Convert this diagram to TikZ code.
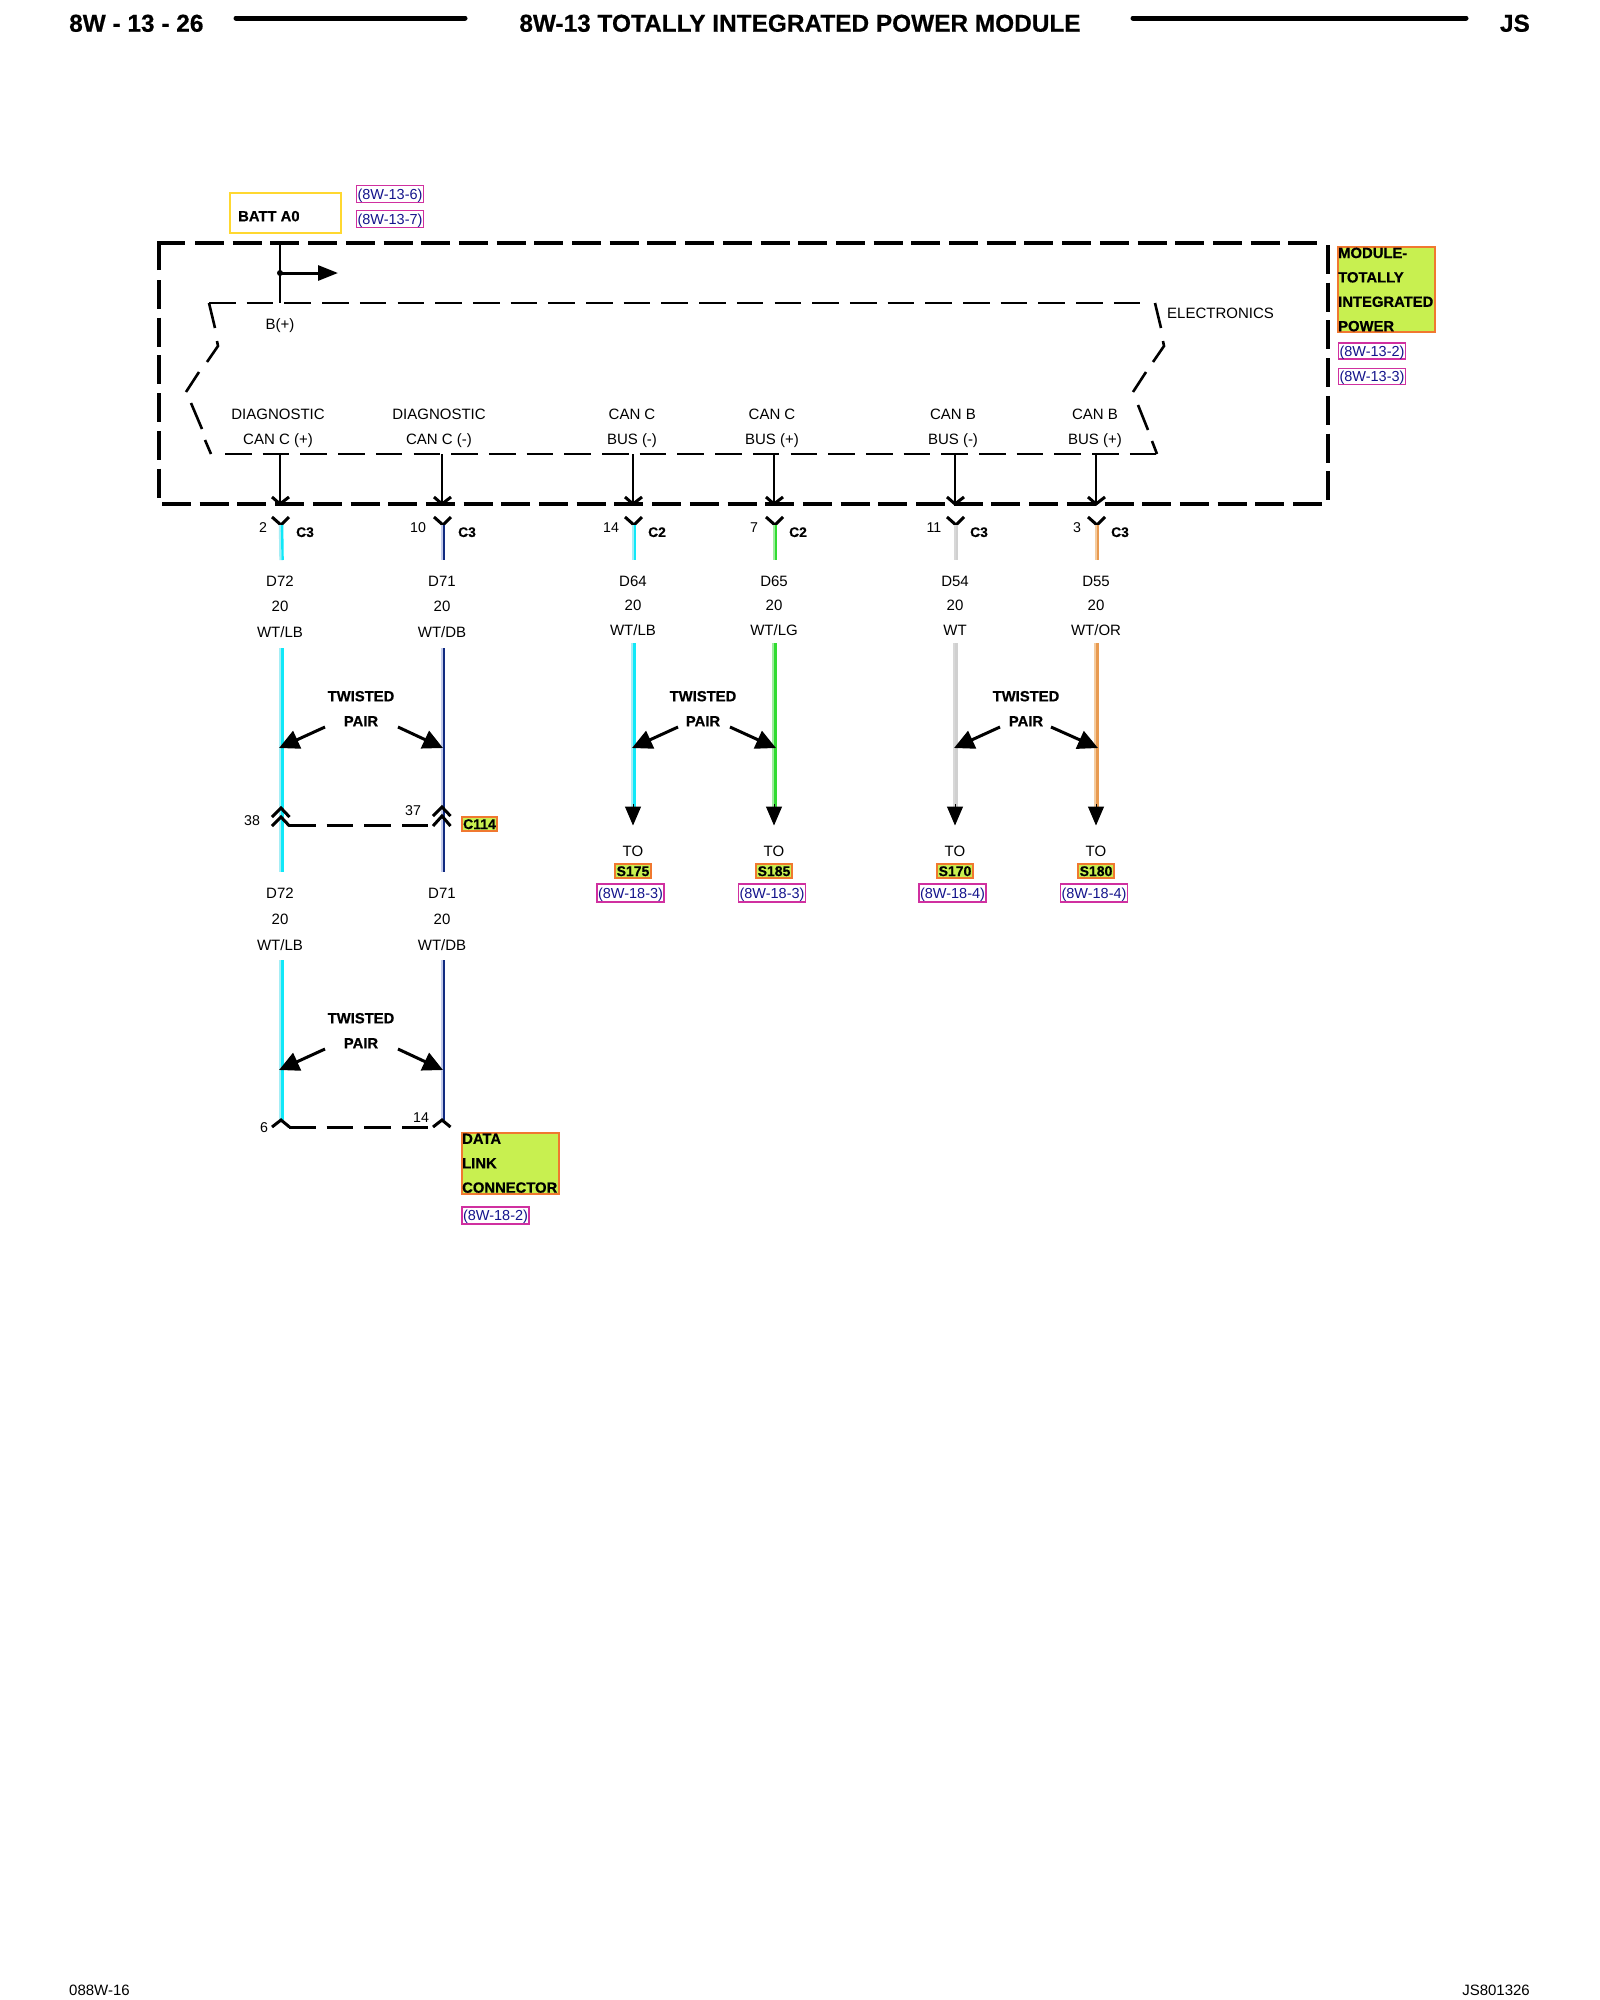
\documentclass[tikz,border=0pt]{standalone}
\usepackage{fontspec}
\setmainfont{Liberation Sans}[BoldFeatures={FakeBold=0.5}]
\usetikzlibrary{arrows.meta}
\definecolor{refc}{HTML}{D030A0}
\definecolor{refn}{HTML}{14148C}
\definecolor{boxf}{HTML}{C8F050}
\definecolor{boxo}{HTML}{F07830}
\definecolor{gold}{HTML}{FFD830}
\definecolor{cy}{HTML}{10E8F8}\definecolor{cyl}{HTML}{A4EEF6}
\definecolor{nv}{HTML}{102A80}\definecolor{nvl}{HTML}{C4CCEC}
\definecolor{gr}{HTML}{30DC30}\definecolor{grl}{HTML}{A0ECA0}
\definecolor{wh}{HTML}{D0D0D0}\definecolor{whl}{HTML}{D8D8D8}
\definecolor{or}{HTML}{E89A50}\definecolor{orl}{HTML}{F4CCA0}
\newcommand{\fs}[1]{\fontsize{#1}{#1}\selectfont}
\tikzset{
  lbl/.style={inner sep=0pt,font=\fs{15},text height=10.8pt,text depth=0pt},
  blbl/.style={inner sep=0pt,font=\fs{14.8}\bfseries,text height=10.6pt,text depth=0pt},
  pinlbl/.style={inner sep=0pt,font=\fs{14.2},text height=10.2pt,text depth=0pt},
  conn/.style={inner sep=0pt,font=\fs{13.8}\bfseries,text height=9.9pt,text depth=0pt},
  refbox/.style={draw=refc,line width=1.6pt,inner sep=0pt,text=refn,font=\fs{14.5},text height=10.4pt,text depth=0pt,minimum width=67pt,minimum height=17pt},
  namebox/.style={draw=boxo,fill=boxf,line width=1.6pt,inner sep=0pt},
  tagbox/.style={namebox,font=\fs{14}\bfseries,text height=10pt,text depth=0pt,minimum height=14pt},
  outer/.style={line width=4pt,dash pattern=on 29pt off 8.7pt},
  outerseg/.style={line width=4pt},
  inner/.style={line width=2.6pt,dash pattern=on 26.6pt off 11.1pt},
  innerseg/.style={line width=2.6pt},
  lead/.style={line width=2.4pt},
  fork/.style={line width=3pt},
  hdrbar/.style={line width=5pt,line cap=round},
  callout/.style={line width=3pt,-{Triangle[length=20pt,width=19pt]}},
  toarrow/.style={-{Triangle[length=19pt,width=16pt]},line width=1pt},
  hdr/.style={inner sep=0pt,font=\fs{24.4}\bfseries,text height=17.4pt,text depth=0pt},
  foot/.style={inner sep=0pt,font=\fs{15}},
}
% two-tone wire between two named points
\newcommand{\wirepair}[4]{%
  \draw[line width=2.2pt,draw=#3] ([xshift=-1.1pt]#1) -- ([xshift=-1.1pt]#2);
  \draw[line width=2.4pt,draw=#4] ([xshift=1.1pt]#1) -- ([xshift=1.1pt]#2);}
\begin{document}
\begin{tikzpicture}[x=1pt,y=-1pt]
\useasboundingbox (0,0) rectangle (1600,2000);
\fill[white] (0,0) rectangle (1600,2000);

% header
\node[anchor=west,hdr] (pgno) at (69,23) {8W - 13 - 26};
\node[hdr] (title) at (800,23) {8W-13 TOTALLY INTEGRATED POWER MODULE};
\node[anchor=east,hdr] (js) at (1530,23) {JS};
\coordinate (b1a) at (236,18); \coordinate (b1b) at (465,18);
\coordinate (b2a) at (1133,18); \coordinate (b2b) at (1466,18);
\draw[hdrbar] (b1a) -- (b1b);
\draw[hdrbar] (b2a) -- (b2b);

% footer
\node[anchor=west,foot] (ftl) at (69,1990) {088W-16};
\node[anchor=east,foot] (ftr) at (1530,1990) {JS801326};

% batt
\node[draw=gold,line width=2.4pt,minimum width=111pt,minimum height=40pt,inner sep=0pt] (batt) at (285.5,213) {};
\node[anchor=west,blbl] (batttxt) at (238,216) {BATT A0};
\node[refbox] (r136) at (390,194) {(8W-13-6)};
\node[refbox] (r137) at (390,219) {(8W-13-7)};

% outer dashed module outline
\coordinate (oTL) at (159,243);
\draw[outerseg] (159,270) -- (oTL) -- (185,243);
\draw[outer] (195,243) -- (1320,243);
\draw[outer] (159,280) -- (159,499);
\draw[outer] (162,504) -- (1325,504);
\draw[outer] (1328,245) -- (1328,500);

% inner dashed outline
\draw[inner] (209,303) -- (1142,303);
\draw[inner] (225,454) -- (1157,454);
\draw[innerseg] (209,303) -- (215,328);
\draw[innerseg] (217,341) -- (218,346) -- (207,362);
\draw[innerseg] (199,372) -- (186,392);
\draw[innerseg] (191,403) -- (202,429);
\draw[innerseg] (205,440) -- (211,454);
\draw[innerseg] (1155,303) -- (1161,328);
\draw[innerseg] (1163,341) -- (1164,346) -- (1153,362);
\draw[innerseg] (1146,372) -- (1133,392);
\draw[innerseg] (1138,405) -- (1148,430);
\draw[innerseg] (1152,441) -- (1157,454);

% battery feed
\coordinate (feedtop) at (280,243);
\coordinate (feedbot) at (280,303);
\coordinate (feedjn) at (280,273);
\coordinate (feedend) at (338,273);
\draw[lead] (feedtop) -- (feedbot);
\draw[line width=3pt,-{Triangle[length=20pt,width=15pt]}] (feedjn) -- (feedend);
\fill (feedjn) circle (3pt);

\node[lbl] (bplus) at (280,324) {B(+)};
\node[lbl,anchor=west] (elec) at (1167,313) {ELECTRONICS};

% module name
\node[namebox,minimum width=97pt,minimum height=85pt] (modbox) at (1386.5,289.5) {};
\node[anchor=north west,inner sep=0pt,align=left,font=\fontsize{14.8}{24.4}\selectfont\bfseries] (modtxt) at (1338,247.5) {MODULE-\\TOTALLY\\INTEGRATED\\POWER};
\node[refbox,minimum height=16pt] (r132) at (1372,351) {(8W-13-2)};
\node[refbox,minimum height=16pt] (r133) at (1372,376.5) {(8W-13-3)};

% internal labels
\foreach \n/\x/\a/\b in {a/278/DIAGNOSTIC/CAN C (+),b/439/DIAGNOSTIC/CAN C (-),c/632/CAN C/BUS (-),d/772/CAN C/BUS (+),e/953/CAN B/BUS (-),f/1095/CAN B/BUS (+)}{
  \node[lbl] (int\n1) at (\x,414) {\a};
  \node[lbl] (int\n2) at (\x,439) {\b};
}

% six circuits: leads, forks, pin numbers, connectors
\foreach \n/\x/\pin/\px/\con/\cx in {a/280/2/263/C3/305,b/442/10/418/C3/467,c/633/14/611/C2/657,d/774/7/754/C2/798,e/955/11/934/C3/979,f/1096/3/1077/C3/1120}{
  \coordinate (in\n) at (\x,454);
  \coordinate (out\n) at (\x,504);
  \coordinate (lf\n) at (\x-8,497);
  \coordinate (rf\n) at (\x+9,497);
  \coordinate (ylf\n) at (\x-8,517);
  \coordinate (yrf\n) at (\x+9,517);
  \coordinate (y\n) at (\x+1,525);
  \draw[lead] (in\n) -- (out\n);
  \draw[fork] (lf\n) -- (out\n) -- (rf\n);
  \draw[fork] (ylf\n) -- (y\n) -- (yrf\n);
  \node[pinlbl] (pin\n) at (\px,527) {\pin};
  \node[conn] (con\n) at (\cx,532) {\con};
}
% short wire stubs
\coordinate (sa) at (281.5,560); \coordinate (sb) at (443,560); \coordinate (sc) at (634,560);
\coordinate (sd) at (775,560); \coordinate (se) at (956,560); \coordinate (sf) at (1097,560);
\wirepair{ya}{sa}{cyl}{cy}
\wirepair{yb}{sb}{nvl}{nv}
\wirepair{yc}{sc}{cyl}{cy}
\wirepair{yd}{sd}{grl}{gr}
\wirepair{ye}{se}{whl}{wh}
\wirepair{yf}{sf}{orl}{or}

% wire labels
\foreach \n/\x/\a/\b/\ya/\yb/\yc in {a/280/D72/{WT/LB}/581/606/632,b/442/D71/{WT/DB}/581/606/632,c/633/D64/{WT/LB}/581/605/630,d/774/D65/{WT/LG}/581/605/630,e/955/D54/{WT}/581/605/630,f/1096/D55/{WT/OR}/581/605/630}{
  \node[lbl] (wn\n) at (\x,\ya) {\a};
  \node[lbl] (wg\n) at (\x,\yb) {20};
  \node[lbl] (wc\n) at (\x,\yc) {\b};
}

% main wire runs
\coordinate (ma1) at (281.5,648); \coordinate (ma2) at (281.5,872);
\coordinate (mb1) at (443,648);   \coordinate (mb2) at (443,872);
\coordinate (mc1) at (633.5,643); \coordinate (mc2) at (633.5,810);
\coordinate (md1) at (774.5,643); \coordinate (md2) at (774.5,810);
\coordinate (me1) at (955.5,643); \coordinate (me2) at (955.5,810);
\coordinate (mf1) at (1096.5,643);\coordinate (mf2) at (1096.5,810);
\wirepair{ma1}{ma2}{cyl}{cy}
\wirepair{mb1}{mb2}{nvl}{nv}
\wirepair{mc1}{mc2}{cyl}{cy}
\wirepair{md1}{md2}{grl}{gr}
\wirepair{me1}{me2}{whl}{wh}
\wirepair{mf1}{mf2}{orl}{or}

% lower run of D72/D71
\coordinate (la1) at (281.5,960); \coordinate (la2) at (281.5,1120);
\coordinate (lb1) at (443,960);   \coordinate (lb2) at (443,1120);
\wirepair{la1}{la2}{cyl}{cy}
\wirepair{lb1}{lb2}{nvl}{nv}

% arrows off the page with destinations
\foreach \n/\x/\tag/\rf/\tx in {c/633/S175/8W-18-3/630.5,d/774/S185/8W-18-3/772,e/955/S170/8W-18-4/952.5,f/1096/S180/8W-18-4/1094}{
  \coordinate (ah\n) at (\x,804);
  \coordinate (at\n) at (\x,825.5);
  \draw[toarrow] (ah\n) -- (at\n);
  \node[lbl] (to\n) at (\x,851) {TO};
  \node[tagbox,minimum width=36pt] (tag\n) at (\x,871) {\tag};
  \node[refbox,minimum height=18pt] (ref\n) at (\tx,893) {(\rf)};
}

% twisted pair callouts
\foreach \n/\lx/\rx/\tx/\wl/\wr/\ty in {p/325/398/361/279/443/696,q/678/730/703/632/776/696,r/1000/1051/1026/954/1098/696,s/325/398/361/279/443/1018}{
  \node[blbl] (tw\n) at (\tx,\ty) {TWISTED};
  \node[blbl] (pr\n) at (\tx,\ty+25) {PAIR};
  \coordinate (cl\n) at (\lx,\ty+31);
  \coordinate (cr\n) at (\rx,\ty+31);
  \coordinate (tl\n) at (\wl,\ty+52);
  \coordinate (tr\n) at (\wr,\ty+52);
  \draw[callout] (cl\n) -- (tl\n);
  \draw[callout] (cr\n) -- (tr\n);
}

% C114 inline connector
\foreach \n/\x/\dy in {a/281/0,b/442/-1}{
  \coordinate (ca\n) at (\x,808+\dy);
  \coordinate (cb\n) at (\x,817+\dy);
  \draw[fork] (\x-9,817+\dy) -- (ca\n) -- (\x+8.5,817+\dy);
  \draw[fork] (\x-9,826) -- (cb\n) -- (\x+8.5,826);
}
\coordinate (cdl) at (289,825.5); \coordinate (cdr) at (428,825.5);
\draw[inner] (cdl) -- (cdr);
\node[pinlbl] (p38) at (252,820) {38};
\node[pinlbl] (p37) at (413,810) {37};
\node[tagbox,minimum width=35pt] (c114) at (479.5,824) {C114};

% lower wire labels
\foreach \n/\x/\a/\b in {a/280/D72/{WT/LB},b/442/D71/{WT/DB}}{
  \node[lbl] (ln\n) at (\x,893) {\a};
  \node[lbl] (lg\n) at (\x,919) {20};
  \node[lbl] (lc\n) at (\x,945) {\b};
}

% data link connector
\foreach \n/\x in {a/281,b/442}{
  \coordinate (dl\n) at (\x,1120);
  \draw[fork] (\x-9,1127) -- (dl\n) -- (\x+8.5,1127);
}
\coordinate (ddl) at (289,1127.3); \coordinate (ddr) at (428,1127.3);
\draw[inner] (ddl) -- (ddr);
\node[pinlbl] (p6) at (264,1127) {6};
\node[pinlbl] (p14) at (421,1117) {14};
\node[namebox,minimum width=97pt,minimum height=61pt] (dlcbox) at (510.5,1163.5) {};
\node[anchor=north west,inner sep=0pt,align=left,font=\fontsize{14.8}{24.4}\selectfont\bfseries] (dlctxt) at (462,1133.5) {DATA\\LINK\\CONNECTOR};
\node[refbox] (r182) at (495.5,1215.5) {(8W-18-2)};
\end{tikzpicture}
\end{document}
